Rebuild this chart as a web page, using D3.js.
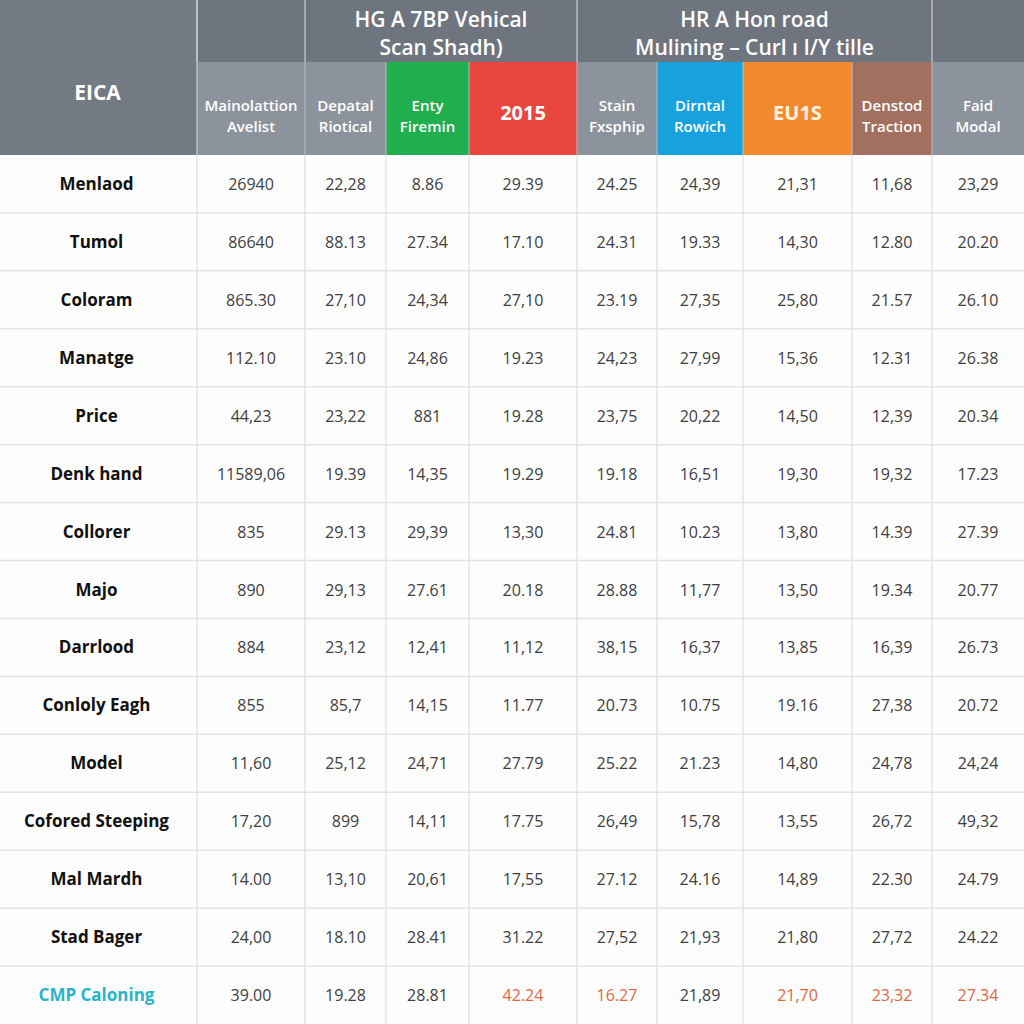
<!DOCTYPE html>
<html><head><meta charset="utf-8">
<script src="https://cdn.jsdelivr.net/npm/d3@7"></script>
<style>html,body{margin:0;padding:0;background:#fff;}svg{display:block;font-family:"Open Sans","Noto Sans",sans-serif;}</style>
</head><body>
<svg id="c" width="1024" height="1024"></svg>
<script>
// ---- data ----
const cornerLabel = "EICA";
const groupHeaders = [
  {label: "", from: 1, to: 1},
  {label: ["HG A 7BP Vehical", "Scan Shadh)"], from: 2, to: 4},
  {label: ["HR A Hon road", "Mulining \u2013 Curl \u0131 I/Y tille"], from: 5, to: 8},
  {label: "", from: 9, to: 9}
];
const colHeaders = [
  ["Mainolattion", "Avelist"],
  ["Depatal", "Riotical"],
  ["Enty", "Firemin"],
  ["2015"],
  ["Stain", "Fxsphip"],
  ["Dirntal", "Rowich"],
  ["EU1S"],
  ["Denstod", "Traction"],
  ["Faid", "Modal"]
];
const headerKinds = ["gray","gray","green","red","gray","blue","orange","brown","gray"];
const rowLabels = ["Menlaod","Tumol","Coloram","Manatge","Price","Denk hand","Collorer","Majo","Darrlood","Conloly Eagh","Model","Cofored Steeping","Mal Mardh","Stad Bager","CMP Caloning"];
const cellValues = [
  ["26940","22,28","8.86","29.39","24.25","24,39","21,31","11,68","23,29"],
  ["86640","88.13","27.34","17.10","24.31","19.33","14,30","12.80","20.20"],
  ["865.30","27,10","24,34","27,10","23.19","27,35","25,80","21.57","26.10"],
  ["112.10","23.10","24,86","19.23","24,23","27,99","15,36","12.31","26.38"],
  ["44,23","23,22","881","19.28","23,75","20,22","14,50","12,39","20.34"],
  ["11589,06","19.39","14,35","19.29","19.18","16,51","19,30","19,32","17.23"],
  ["835","29.13","29,39","13,30","24.81","10.23","13,80","14.39","27.39"],
  ["890","29,13","27.61","20.18","28.88","11,77","13,50","19.34","20.77"],
  ["884","23,12","12,41","11,12","38,15","16,37","13,85","16,39","26.73"],
  ["855","85,7","14,15","11.77","20.73","10.75","19.16","27,38","20.72"],
  ["11,60","25,12","24,71","27.79","25.22","21.23","14,80","24,78","24,24"],
  ["17,20","899","14,11","17.75","26,49","15,78","13,55","26,72","49,32"],
  ["14.00","13,10","20,61","17,55","27.12","24.16","14,89","22.30","24.79"],
  ["24,00","18.10","28.41","31.22","27,52","21,93","21,80","27,72","24.22"],
  ["39.00","19.28","28.81","42.24","16.27","21,89","21,70","23,32","27.34"]
];
const highlightedCells = [[14,3],[14,4],[14,6],[14,7],[14,8]];

// ---- layout / style ----
const W = 1024, H = 1024;
const colEdges = [0,197,305,386,469,577,657,743,852,932,1024];
const headTop = 0, headMid = 62, headBottom = 155;
const kindColor = {gray:"#8d939c", green:"#20ae4f", red:"#e8463c", blue:"#17a2dd", orange:"#f38a2d", brown:"#a3705f"};
const darkHead = "#737982";

const svg = d3.select("#c");
const x = i => colEdges[i];
const y = d3.scaleBand().domain(d3.range(rowLabels.length)).range([headBottom, H]);

// header backgrounds
svg.append("rect").attr("x",0).attr("y",0).attr("width",W).attr("height",headBottom).attr("fill",darkHead);
svg.append("rect").attr("x",0).attr("y",0).attr("width",x(1)).attr("height",headBottom).attr("fill","#747a83");

// group header cells
const gh = svg.append("g");
groupHeaders.forEach(g => {
  const x0 = x(g.from), x1 = x(g.to+1);
  gh.append("rect").attr("x",x0).attr("y",headTop).attr("width",x1-x0).attr("height",headMid-headTop)
    .attr("fill","#6f757e");
  if (Array.isArray(g.label)) {
    g.label.forEach((t,k)=>{
      gh.append("text").attr("x",(x0+x1)/2).attr("y",27+k*28).attr("text-anchor","middle")
        .attr("fill","#fff").attr("font-size",21).attr("font-weight",600).text(t);
    });
  }
});
// group separators (top row)
[1,2,5,9].forEach(i=>{
  svg.append("line").attr("x1",x(i)).attr("x2",x(i)).attr("y1",0).attr("y2",headMid)
    .attr("stroke","#c9ced4").attr("stroke-width",1.2);
});

// column header cells
const ch = svg.append("g");
colHeaders.forEach((lines,i)=>{
  const x0 = x(i+1), x1 = x(i+2);
  ch.append("rect").attr("x",x0).attr("y",headMid).attr("width",x1-x0).attr("height",headBottom-headMid)
    .attr("fill",kindColor[headerKinds[i]]);
  const cx = (x0+x1)/2, cy = (headMid+headBottom)/2;
  if (lines.length === 1) {
    ch.append("text").attr("x",cx).attr("y",cy+11).attr("text-anchor","middle")
      .attr("fill", headerKinds[i]==="orange" ? "#fff3e0" : "#fff").attr("font-size",20).attr("font-weight",700).text(lines[0]);
  } else {
    lines.forEach((t,k)=>{
      ch.append("text").attr("x",cx).attr("y",cy+2+k*21).attr("text-anchor","middle")
        .attr("fill","#fff").attr("font-size",15).attr("font-weight",600).text(t);
    });
  }
});
[2,3,4,5,6,7,8,9].forEach(i=>{
  svg.append("line").attr("x1",x(i)).attr("x2",x(i)).attr("y1",headMid).attr("y2",headBottom)
    .attr("stroke","#b6bcc3").attr("stroke-width",1);
});
svg.append("line").attr("x1",x(1)).attr("x2",x(1)).attr("y1",0).attr("y2",headBottom).attr("stroke","#c9ced4").attr("stroke-width",1.2);

// corner label
svg.append("text").attr("x",x(1)/2-1).attr("y",100).attr("text-anchor","middle")
  .attr("fill","#fff").attr("font-size",21).attr("font-weight",700).text(cornerLabel);

// body
const body = svg.append("g");
body.append("rect").attr("x",0).attr("y",headBottom).attr("width",W).attr("height",H-headBottom).attr("fill","#fdfdfd");

// grid lines
rowLabels.forEach((_,r)=>{
  if (r>0) body.append("line").attr("x1",0).attr("x2",W).attr("y1",y(r)).attr("y2",y(r))
    .attr("stroke","#dfe5e8").attr("stroke-width",1.5);
});
d3.range(1,colEdges.length-1).forEach(i=>{
  body.append("line").attr("x1",x(i)).attr("x2",x(i)).attr("y1",headBottom).attr("y2",H)
    .attr("stroke","#d8e2e5").attr("stroke-width",1.2);
});

const isHi = (r,c)=>highlightedCells.some(h=>h[0]===r&&h[1]===c);
const lastRow = rowLabels.length-1;
body.selectAll("text.lab").data(rowLabels).join("text").attr("class","lab")
  .attr("x",x(1)/2-2).attr("y",(d,r)=>y(r)+y.bandwidth()/2+6).attr("text-anchor","middle")
  .attr("font-size",17).attr("font-weight",700)
  .attr("fill",(d,r)=> r===lastRow ? "#2bb3c8" : "#111").text(d=>d);

cellValues.forEach((row,r)=>{
  body.selectAll(null).data(row).join("text")
    .attr("x",(d,c)=>(x(c+1)+x(c+2))/2).attr("y",y(r)+y.bandwidth()/2+6)
    .attr("text-anchor","middle").attr("font-size",16)
    .attr("fill",(d,c)=> isHi(r,c) ? "#e0683f" : "#404040").text(d=>d);
});
</script>
</body></html>
